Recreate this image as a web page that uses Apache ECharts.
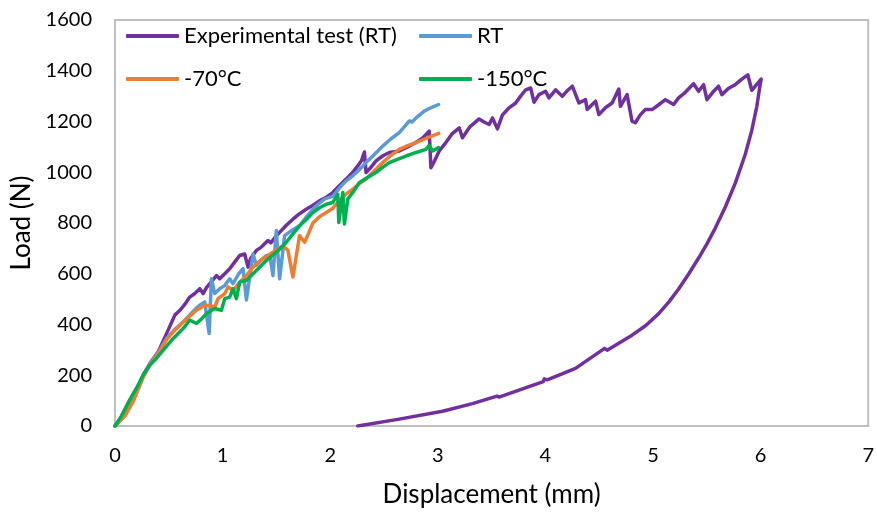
<!DOCTYPE html>
<html><head><meta charset="utf-8">
<script src="https://cdn.jsdelivr.net/npm/echarts@6/dist/echarts.min.js"></script>
<style>html,body{margin:0;padding:0;background:#fff}#c{width:877px;height:513px}</style>
</head><body><div id="c"></div>
<script>
const seriesNames = ['Experimental test (RT)', 'RT', '-70°C', '-150°C'];
const xTicks = [0, 1, 2, 3, 4, 5, 6, 7];
const yTicks = [0, 200, 400, 600, 800, 1000, 1200, 1400, 1600];

const expX = [0,0.093,0.17,0.262,0.33,0.402,0.48,0.556,0.603,0.65,0.695,0.742,0.788,0.819,0.85,0.881,0.943,0.973,1.02,1.066,1.11,1.159,1.205,1.236,1.26,1.314,1.36,1.421,1.45,1.49,1.53,1.59,1.653,1.71,1.777,1.84,1.9,1.963,2.024,2.08,2.148,2.21,2.256,2.29,2.318,2.333,2.38,2.426,2.49,2.55,2.642,2.72,2.797,2.86,2.92,2.936,2.97,3.013,3.075,3.13,3.199,3.229,3.3,3.384,3.43,3.477,3.508,3.554,3.6,3.662,3.724,3.77,3.817,3.863,3.894,3.94,4.002,4.033,4.095,4.157,4.2,4.25,4.311,4.373,4.388,4.466,4.497,4.56,4.62,4.682,4.697,4.759,4.805,4.836,4.88,4.929,4.991,5.05,5.115,5.192,5.238,5.3,5.377,5.424,5.47,5.501,5.555,5.609,5.64,5.7,5.764,5.82,5.881,5.918,6.005,5.99,5.965,5.918,5.857,5.764,5.671,5.579,5.5,5.424,5.33,5.238,5.15,5.053,4.93,4.805,4.574,4.55,4.28,4.017,3.99,3.98,3.569,3.55,3.322,3.044,2.642,2.256];
const expY = [0,44,105,201,250,293,365,437,456,480,508,522,541,522,545,561,593,580,600,620,645,672,678,626,660,692,705,731,722,745,763,790,815,835,854,870,887,901,920,945,973,1000,1025,1045,1080,999,1020,1045,1065,1078,1084,1100,1117,1135,1162,1018,1045,1084,1117,1150,1175,1136,1180,1210,1198,1188,1214,1171,1225,1254,1273,1300,1325,1332,1276,1306,1319,1293,1325,1299,1320,1339,1273,1286,1247,1280,1227,1255,1273,1328,1260,1306,1201,1195,1225,1247,1247,1265,1286,1267,1293,1315,1349,1319,1345,1286,1315,1339,1306,1330,1345,1365,1384,1323,1367,1330,1260,1165,1070,956,862,780,717,662,598,540,490,443,395,358,299,306,227,182,186,175,114,118,88,58,27,0];

const rtX = [0,0.093,0.17,0.262,0.33,0.402,0.479,0.55,0.633,0.7,0.757,0.788,0.834,0.875,0.896,0.927,0.97,1.02,1.066,1.097,1.15,1.19,1.221,1.283,1.314,1.36,1.406,1.44,1.468,1.499,1.53,1.576,1.64,1.715,1.79,1.87,1.95,2.024,2.1,2.148,2.21,2.27,2.333,2.41,2.488,2.56,2.642,2.69,2.735,2.76,2.8,2.874,2.94,3.007];
const rtY = [0,44,100,195,250,290,345,378,410,440,465,476,489,365,580,522,540,554,580,561,600,620,497,678,633,655,672,670,593,770,580,750,770,789,830,868,895,905,945,966,986,1010,1038,1070,1103,1130,1156,1180,1202,1198,1215,1241,1255,1267];

const m70X = [0,0.093,0.17,0.262,0.33,0.402,0.479,0.55,0.633,0.7,0.757,0.8,0.85,0.927,0.958,1.02,1.051,1.1,1.159,1.221,1.283,1.33,1.375,1.42,1.468,1.52,1.561,1.607,1.653,1.715,1.762,1.8,1.839,1.9,1.963,2.024,2.086,2.15,2.21,2.27,2.333,2.41,2.488,2.56,2.642,2.72,2.797,2.9,3.007];
const m70Y = [0,40,98,193,245,285,340,375,410,435,456,468,476,469,502,522,548,535,567,593,626,645,659,672,685,700,711,692,587,750,724,760,800,825,841,858,890,915,933,955,973,1005,1038,1065,1090,1105,1117,1135,1153];

const m150X = [0,0.06,0.139,0.2,0.262,0.32,0.386,0.46,0.541,0.633,0.695,0.757,0.8,0.85,0.927,0.989,1.02,1.066,1.097,1.128,1.159,1.221,1.283,1.344,1.406,1.45,1.499,1.55,1.592,1.65,1.715,1.78,1.839,1.9,1.963,2.024,2.07,2.08,2.117,2.132,2.163,2.21,2.271,2.33,2.426,2.49,2.55,2.63,2.704,2.8,2.889,2.92,2.951,3.007];
const m150Y = [0,40,105,150,201,238,267,305,345,384,417,404,420,443,463,456,502,508,541,502,567,574,600,626,652,668,685,705,724,755,789,815,841,860,874,881,913,802,920,796,894,920,959,975,999,1020,1038,1052,1064,1078,1090,1106,1084,1097];

const colors = ['#7030A0', '#5B9BD5', '#ED7D31', '#00B050'];
const zip = (xs, ys) => xs.map((x, i) => [x, ys[i]]);
const allData = [zip(expX, expY), zip(rtX, rtY), zip(m70X, m70Y), zip(m150X, m150Y)];

const FONT = 'Lato';
const chart = echarts.init(document.getElementById('c'), null, {renderer: 'canvas'});
const legendPos = [[126, 25], [419, 25], [126, 68], [419, 68]];
const option = {
  animation: false,
  backgroundColor: '#fff',
  grid: {left: 115, right: 7, top: 20, bottom: 85, show: true, borderColor: '#BFBFBF', borderWidth: 2, backgroundColor: 'transparent'},
  legend: seriesNames.map((n, i) => ({
    data: [n], left: legendPos[i][0], top: legendPos[i][1], itemWidth: 53, itemHeight: 4, icon: 'roundRect',
    padding: 0, itemGap: 5,
    textStyle: {fontFamily: FONT, fontSize: 22, color: '#000', padding: [0, 0, 0, 0]}
  })),
  xAxis: {
    type: 'value', min: xTicks[0], max: xTicks[xTicks.length - 1], interval: 1,
    name: 'Displacement (mm)', nameLocation: 'middle', nameGap: 56,
    nameTextStyle: {fontFamily: FONT, fontSize: 26, color: '#000'},
    axisLine: {show: true, lineStyle: {color: '#BFBFBF', width: 2}},
    axisTick: {show: false}, splitLine: {show: false},
    axisLabel: {fontFamily: FONT, fontSize: 20, color: '#000', margin: 20, formatter: v => String(v)}
  },
  yAxis: {
    type: 'value', min: yTicks[0], max: yTicks[yTicks.length - 1], interval: 200,
    name: 'Load (N)', nameLocation: 'middle', nameGap: 80, nameRotate: 90,
    nameTextStyle: {fontFamily: FONT, fontSize: 26, color: '#000'},
    axisLine: {show: true, lineStyle: {color: '#BFBFBF', width: 2}},
    axisTick: {show: false}, splitLine: {show: false},
    axisLabel: {fontFamily: FONT, fontSize: 20, color: '#000', margin: 23, formatter: v => String(v)}
  },
  series: seriesNames.map((n, i) => ({
    name: n, type: 'line', data: allData[i], showSymbol: false, symbol: 'none',
    lineStyle: {color: colors[i], width: 3.5, cap: 'round', join: 'round'},
    itemStyle: {color: colors[i]}, z: 2 + i
  }))
};
chart.setOption(option);
</script></body></html>
